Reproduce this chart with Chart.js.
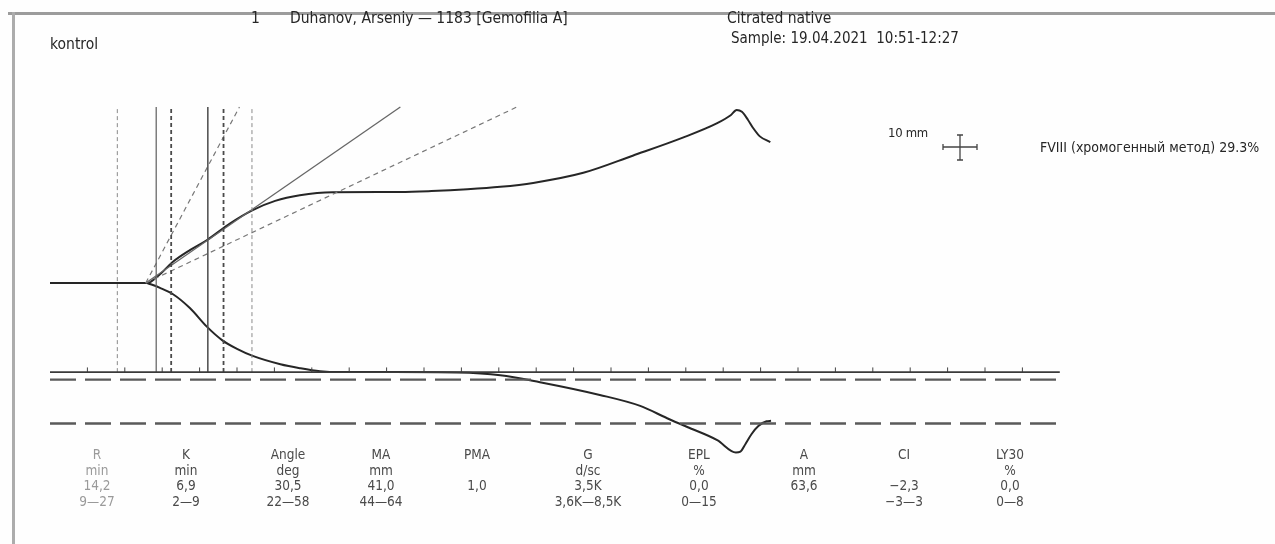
<!DOCTYPE html>
<html>
<head>
<meta charset="utf-8">
<title>TEG — Duhanov, Arseniy</title>
<script src="https://cdn.jsdelivr.net/npm/chart.js@4.4.1/dist/chart.umd.min.js"></script>
<style>
  html, body { margin: 0; padding: 0; background: #ffffff; }
  #wrap {
    position: relative; width: 1275px; height: 544px; overflow: hidden; background: #fefefe;
    font-family: "Liberation Sans Narrow", "DejaVu Sans Condensed", "Arial Narrow", sans-serif;
    color: #2a2a2a;
  }
  #teg { position: absolute; left: 0; top: 0; }
  .frame-top { position: absolute; left: 8px; top: 12px; width: 1267px; height: 3px; background: #9c9c9c; }
  .frame-left { position: absolute; left: 12px; top: 12px; width: 3px; height: 532px; background: #acacac; }
  .txt { position: absolute; white-space: nowrap; font-size: 15.5px; line-height: 17px; color: #262626; }
  .col { position: absolute; top: 447px; width: 140px; margin-left: -70px; text-align: center;
         font-size: 13.5px; line-height: 15.5px; color: #4a4a4a; }
  .col.faint { color: #9a9a9a; }
</style>
</head>
<body>
<div id="wrap">
  <div class="frame-top"></div>
  <div class="frame-left"></div>
  <canvas id="teg" width="1275" height="544"></canvas>

  <div class="txt" style="left:251px; top:10px;">1</div>
  <div class="txt" style="left:290px; top:10px;">Duhanov, Arseniy — 1183 [Gemofilia A]</div>
  <div class="txt" style="left:50px; top:36px;">kontrol</div>
  <div class="txt" style="left:727px; top:10px;">Citrated native</div>
  <div class="txt" style="left:731px; top:30px; font-size:15px;">Sample: 19.04.2021&nbsp; 10:51-12:27</div>
  <div class="txt" style="left:888px; top:124px; font-size:13px; letter-spacing:-0.3px;">10 mm</div>
  <div class="txt" style="left:1040px; top:139px; font-size:14px;">FVIII (хромогенный метод) 29.3%</div>
  <div id="table"></div>
</div>

<script>
// ---- trace: time in minutes, half-amplitude in mm (upper branch +, lower branch -)
const TIME_UP  = [0, 13.0, 14.7, 16.4, 18.7, 21.0, 24.1, 27.1, 30.1, 33.4, 37.8, 46.8, 51.0, 55.8, 60.2, 64.6, 71.3, 77.9, 84.6, 89.2, 91.0, 91.8, 92.5, 93.3, 94.0, 94.9, 96.3];
const UPPER_MM = [0, 0,    2.0,  4.8,  7.5,  9.8, 13.6, 16.6, 18.7, 20.0, 20.7, 20.75, 20.95, 21.35, 21.9, 22.8, 25.1, 29.0, 33.1, 36.4, 38.2, 39.4, 39.0, 37.2, 35.3, 33.4, 32.1];

const TIME_LOW = [13.0, 14.7, 16.4, 18.7, 21.0, 23.0, 25.0, 27.1, 30.8, 33.4, 36.1, 38.8, 46.0, 54.4, 60.2, 65.5, 73.5, 78.9, 82.5, 85.2, 89.2, 91.7, 92.3, 93.0, 93.8, 94.7, 95.8, 96.4];
const LOWER_MM = [0,   -1.1, -2.5, -5.7, -10.0, -13.0, -15.0, -16.6, -18.5, -19.4, -20.1, -20.3, -20.3, -20.4, -21.0, -22.6, -25.5, -28.0, -30.8, -32.8, -35.8, -38.6, -38.4, -36.6, -34.4, -32.6, -31.5, -31.4];

// ---- time axis (minutes)
const AXIS_RANGE = [0, 135];
const AXIS_LEVEL_MM = -20.3;
const TICK_MIN = [5, 10, 15, 20, 25, 30, 35, 40, 45, 50, 55, 60, 65, 70, 75, 80, 85, 90, 95, 100, 105, 110, 115, 120, 125, 130];

// ---- result table
const PARAM_NAMES  = ['R', 'K', 'Angle', 'MA', 'PMA', 'G', 'EPL', 'A', 'CI', 'LY30'];
const PARAM_UNITS  = ['min', 'min', 'deg', 'mm', '', 'd/sc', '%', 'mm', '', '%'];
const PARAM_VALUES = ['14,2', '6,9', '30,5', '41,0', '1,0', '3,5K', '0,0', '63,6', '\u22122,3', '0,0'];
const PARAM_RANGES = ['9\u201427', '2\u20149', '22\u201458', '44\u201464', '', '3,6K\u20148,5K', '0\u201415', '', '\u22123\u20143', '0\u20148'];

// ---- marker lines
const CLOT_START_MIN = 12.8;   // where the angle rays start
const MARKER_TOP_MM = 40.1;    // upper end of the R/K markers and angle rays

// page geometry of the plot (pixels)
const ORIGIN_X = 50, PX_PER_MIN = 7.48;
const ORIGIN_Y = 283, PX_PER_MM = 4.39;
const W = 1275, H = 544;
const COL_X = [97, 186, 288, 381, 477, 588, 699, 804, 904, 1010];

const num = s => parseFloat(s.replace('\u2212', '-').replace(',', '.'));
const range = s => s.split('\u2014').map(num);

const R = num(PARAM_VALUES[0]);
const K = num(PARAM_VALUES[1]);
const ANGLE = num(PARAM_VALUES[2]);
const R_RANGE = range(PARAM_RANGES[0]);
const K_RANGE = range(PARAM_RANGES[1]);
const ANGLE_RANGE = range(PARAM_RANGES[2]);
const MA_RANGE = range(PARAM_RANGES[3]);

const pts = (xs, ys) => xs.map((x, i) => ({ x, y: ys[i] }));
const vline = t => [{ x: t, y: AXIS_LEVEL_MM }, { x: t, y: MARKER_TOP_MM }];
// chart paper: 2 mm per minute, so the ray slope in half-amplitude mm/min is 2·tan(angle)
const ray = deg => {
  const slope = 2 * Math.tan(deg * Math.PI / 180);
  return [{ x: CLOT_START_MIN, y: 0 }, { x: CLOT_START_MIN + MARKER_TOP_MM / slope, y: MARKER_TOP_MM }];
};
const hline = mm => [{ x: AXIS_RANGE[0], y: mm }, { x: AXIS_RANGE[1], y: mm }];

const base = { showLine: true, pointRadius: 0, fill: false, tension: 0 };
const datasets = [
  { ...base, data: hline(-MA_RANGE[0] / 2), borderColor: '#5a5a5a', borderWidth: 2.4, borderDash: [26, 9], borderCapStyle: 'butt' },
  { ...base, data: hline(-MA_RANGE[1] / 2), borderColor: '#5a5a5a', borderWidth: 2.4, borderDash: [26, 9], borderCapStyle: 'butt' },
  { ...base, data: hline(AXIS_LEVEL_MM), borderColor: '#3a3a3a', borderWidth: 1.6 },
  { showLine: false, data: TICK_MIN.map(t => ({ x: t, y: AXIS_LEVEL_MM + 0.5 })), pointStyle: 'line', rotation: 90,
    pointRadius: 2.5, borderWidth: 1, borderColor: '#444', backgroundColor: '#444' },
  { ...base, data: vline(R_RANGE[0]), borderColor: '#8a8a8a', borderWidth: 1, borderDash: [4, 3] },
  { ...base, data: vline(R_RANGE[1]), borderColor: '#8a8a8a', borderWidth: 1, borderDash: [4, 3] },
  { ...base, data: vline(R + K_RANGE[0]), borderColor: '#4a4a4a', borderWidth: 1.8, borderDash: [4, 3] },
  { ...base, data: vline(R + K_RANGE[1]), borderColor: '#4a4a4a', borderWidth: 1.8, borderDash: [4, 3] },
  { ...base, data: vline(R), borderColor: '#6a6a6a', borderWidth: 1.3 },
  { ...base, data: vline(R + K), borderColor: '#555', borderWidth: 1.6 },
  { ...base, data: ray(ANGLE_RANGE[1]), borderColor: '#777', borderWidth: 1.2, borderDash: [5, 4] },
  { ...base, data: ray(ANGLE_RANGE[0]), borderColor: '#777', borderWidth: 1.2, borderDash: [5, 4] },
  { ...base, data: ray(ANGLE), borderColor: '#666', borderWidth: 1.3 },
  { ...base, data: pts(TIME_LOW, LOWER_MM), borderColor: '#262626', borderWidth: 2, cubicInterpolationMode: 'monotone' },
  { ...base, data: pts(TIME_UP, UPPER_MM), borderColor: '#262626', borderWidth: 2, cubicInterpolationMode: 'monotone' }
];

// "10 mm" scale cross
const scaleCross = {
  id: 'scaleCross',
  afterDraw(chart) {
    const c = chart.ctx, cx = 960, cy = 147;
    c.save();
    c.strokeStyle = '#444'; c.lineWidth = 1.3;
    c.beginPath();
    c.moveTo(cx - 17, cy); c.lineTo(cx + 17, cy);
    c.moveTo(cx, cy - 12); c.lineTo(cx, cy + 13);
    c.moveTo(cx - 17, cy - 3); c.lineTo(cx - 17, cy + 3);
    c.moveTo(cx + 17, cy - 3); c.lineTo(cx + 17, cy + 3);
    c.moveTo(cx - 3, cy - 12); c.lineTo(cx + 3, cy - 12);
    c.moveTo(cx - 3, cy + 13); c.lineTo(cx + 3, cy + 13);
    c.stroke();
    c.restore();
  }
};

new Chart(document.getElementById('teg'), {
  type: 'scatter',
  data: { datasets },
  options: {
    responsive: false,
    animation: false,
    devicePixelRatio: 1,
    layout: { padding: 0, autoPadding: false },
    scales: {
      x: { type: 'linear', display: false, min: -ORIGIN_X / PX_PER_MIN, max: (W - ORIGIN_X) / PX_PER_MIN },
      y: { type: 'linear', display: false, min: -(H - ORIGIN_Y) / PX_PER_MM, max: ORIGIN_Y / PX_PER_MM }
    },
    plugins: { legend: { display: false }, tooltip: { enabled: false } },
    events: []
  },
  plugins: [scaleCross]
});

// result table under the trace
const table = document.getElementById('table');
PARAM_NAMES.forEach((name, i) => {
  const d = document.createElement('div');
  d.className = 'col' + (i === 0 ? ' faint' : '');
  d.style.left = COL_X[i] + 'px';
  d.innerHTML = [name, PARAM_UNITS[i], PARAM_VALUES[i], PARAM_RANGES[i]]
    .map(s => '<div>' + (s || '&nbsp;') + '</div>').join('');
  table.appendChild(d);
});
</script>
</body>
</html>
